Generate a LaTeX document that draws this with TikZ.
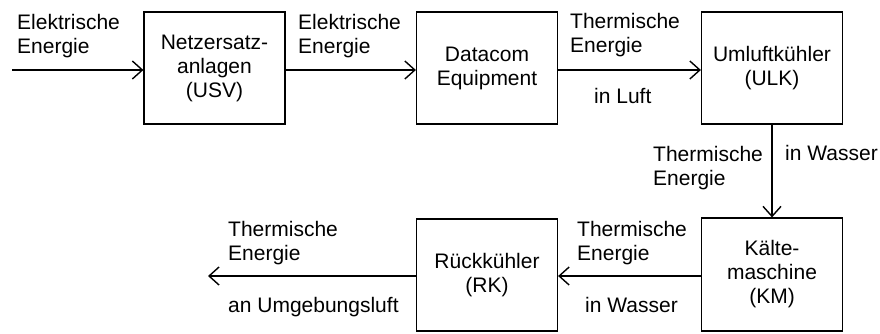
\documentclass[tikz,border=0pt]{standalone}
\usepackage{fontspec}
\setmainfont{Liberation Sans}
\usetikzlibrary{arrows.meta}
\begin{document}
\begin{tikzpicture}[x=1pt,y=-1pt,
  font=\fontsize{21}{24}\selectfont,
  block/.style={draw,line width=1.2pt,minimum width=141pt,align=center,inner sep=0pt},
  lbl/.style={anchor=base west,align=left,inner sep=0pt},
  flow/.style={line width=1.4pt,-{Straight Barb[length=10pt,width=18pt,line width=1.4pt]}}]
\useasboundingbox (0,0) rectangle (880,333);
\node[block,minimum height=112pt] (usv) at (214.5,68) {Netzersatz-\\anlagen\\(USV)};
\node[block,minimum height=112pt] (dc) at (487,68) {Datacom\\Equipment};
\node[block,minimum height=112pt] (ulk) at (772,68) {Umluftkühler\\(ULK)};
\node[block,minimum height=113pt] (km) at (772,274.5) {Kälte-\\maschine\\(KM)};
\node[block,minimum height=112pt] (rk) at (487,275) {Rückkühler\\(RK)};
\coordinate (in) at (12,70);
\coordinate (out) at (208,276);
\draw[flow] (in) -- (in -| usv.west);
\draw[flow] (usv.east |- 0,70) -- (dc.west |- 0,70);
\draw[flow] (dc.east |- 0,70) -- (ulk.west |- 0,70);
\draw[flow] (ulk.south) -- (km.north);
\draw[flow] (km.west |- 0,276) -- (rk.east |- 0,276);
\draw[flow] (rk.west |- 0,276) -- (out);
\node[lbl] (l1) at (17,53) {Elektrische\\Energie};
\node[lbl] (l2) at (298,53) {Elektrische\\Energie};
\node[lbl] (l3) at (570,52) {Thermische\\Energie};
\node[lbl] (l3b) at (594,103) {in Luft};
\node[lbl] (l4) at (653,185) {Thermische\\Energie};
\node[lbl] (l4b) at (785,160) {in Wasser};
\node[lbl] (l5) at (577,260) {Thermische\\Energie};
\node[lbl] (l5b) at (585,312) {in Wasser};
\node[lbl] (l6) at (228,260) {Thermische\\Energie};
\node[lbl] (l6b) at (228,312) {an Umgebungsluft};
\end{tikzpicture}
\end{document}
